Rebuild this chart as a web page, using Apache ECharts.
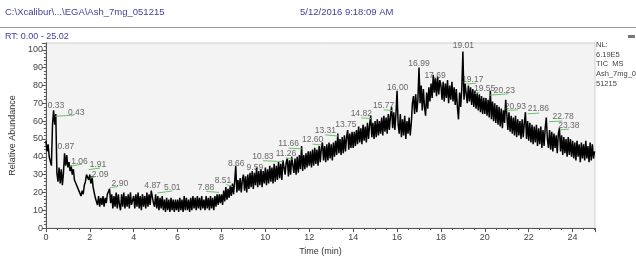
<!DOCTYPE html>
<html>
<head>
<meta charset="utf-8">
<script src="https://cdn.jsdelivr.net/npm/echarts@6/dist/echarts.min.js"></script>
<style>
html,body{margin:0;padding:0;background:#fff;}
#c{width:636px;height:261px;}
</style>
</head>
<body>
<div id="c"></div>
<script>
// ---- data ----
var timeStep = 0.05; // min between samples, first sample at 0.00
// relative abundance, one row per minute (20 samples each)
var abundance = [
  49,43,47,40,41,35,58,66,58,64,31,26,34,25,33,24,31,42,35,41,
  34,37,32,35,30,33,27,26,24,23,21,20,18,21,19,24,26,30,31,27,
  30,25,29,23,22,17,16,13,18,12,17,13,18,12,17,14,19,18,22,14,
  19,11,18,12,20,11,19,13,10,19,12,20,11,18,12,19,11,20,13,12,
  18,11,19,12,20,11,18,10,19,12,18,11,20,12,19,13,21,22,14,12,
  19,11,18,10,17,11,18,10,16,9,17,10,16,9,17,10,16,9,16,10,
  16,9,17,10,16,9,18,10,17,10,16,9,17,10,18,11,17,10,18,11,
  17,10,18,11,16,10,18,11,17,10,18,11,17,10,18,12,19,13,19,14,
  19,13,21,15,23,16,22,17,24,18,25,19,26,35,20,27,21,28,20,27,
  30,21,29,20,30,22,31,23,32,22,31,24,34,23,32,24,33,23,32,25,
  34,24,33,25,35,26,34,25,36,26,35,27,37,28,36,27,38,39,30,37,
  39,29,38,30,40,41,31,39,30,40,31,41,33,46,32,41,33,42,34,43,
  35,43,34,44,35,45,36,44,35,46,37,45,48,38,46,37,47,38,48,39,
  47,38,48,40,49,41,53,42,50,41,51,42,52,43,51,55,44,53,45,54,
  45,54,46,55,47,57,48,56,47,58,49,57,48,59,50,58,63,51,59,50,
  60,51,61,52,60,53,62,52,63,54,62,53,64,55,63,68,56,65,55,64,
  77,58,53,64,51,61,52,63,50,60,53,62,52,59,70,74,64,75,65,72,
  90,70,80,66,78,68,63,76,67,79,71,81,73,86,76,84,74,85,75,83,
  80,72,82,71,81,73,83,70,80,72,82,71,79,69,78,68,61,76,68,78,
  99,72,81,82,70,80,71,79,69,78,68,77,67,76,66,75,65,74,64,73,
  64,73,63,72,62,77,61,71,60,70,59,69,58,68,57,67,56,66,59,72,
  64,55,65,54,63,53,62,52,63,51,61,52,60,50,61,51,59,65,50,60,
  49,59,48,58,47,57,48,58,46,56,47,57,45,55,46,56,62,50,45,55,
  44,54,43,53,45,52,42,53,56,43,52,41,51,42,50,40,51,41,50,40,
  49,39,48,38,49,40,47,37,48,39,47,38,49,39,46,37,48,38,47,39,
  43
];
// peak annotations: text, label anchor (time, abundance)
var peakText  = ['0.33','0.43','0.87','1.06','1.91','2.09','2.90','4.87','5.01','7.88','8.51','8.66','9.59','10.83','11.26','11.66','12.60','13.31','13.75','14.82','15.77','16.00','16.99','17.69','19.01','19.17','19.55','20.23','20.93','21.86','22.78','23.38'];
var peakLabT  = [0.46,1.38,0.91,1.53,2.37,2.47,3.37,4.86,5.76,7.29,8.07,8.67,9.52,9.89,10.94,11.06,12.15,12.73,13.67,14.37,15.39,16.03,17.00,17.73,19.02,19.45,19.99,20.89,21.39,22.44,23.57,23.83];
var peakLabV  = [68.7,64.5,45.7,37.3,35.5,30.1,25.1,23.8,22.6,22.4,26.5,36.4,33.7,40.0,41.8,47.1,49.5,54.8,57.9,64.1,68.6,78.5,92.3,85.6,102.2,83.3,78.1,77.3,68.3,66.8,62.4,57.4];
// leader lines: [t1, v1, t2, v2]
var leaders = [
  [0.43,62.7,1.28,63.4],[1.08,34.6,1.65,35.9],[1.95,32.8,2.47,33.7],[2.02,28.0,2.20,28.5],
  [2.92,22.6,3.29,23.3],[5.08,19.7,5.76,20.8],[7.30,20.6,7.89,20.0],[8.22,24.4,8.52,23.3],
  [9.89,37.8,10.79,37.3],[10.94,39.4,11.24,38.7],[11.06,44.8,11.66,44.5],[12.15,47.1,12.55,46.6],
  [12.73,52.3,13.33,51.6],[14.37,61.8,14.82,61.5],[15.39,66.3,15.79,66.0],[19.15,80.8,19.60,81.2],
  [19.55,75.5,19.75,76.0],[20.23,74.6,21.07,75.3],[20.99,66.0,21.51,66.3],[21.96,64.1,22.48,64.5],
  [22.93,59.7,23.53,60.0],[23.45,55.2,23.83,55.5]
];
var xTicks = [0,2,4,6,8,10,12,14,16,18,20,22,24];
var yTicks = [0,10,20,30,40,50,60,70,80,90,100];
var rtMax = 25.02;

// ---- build ----
var series = abundance.map(function(v,i){ return [+(i*timeStep).toFixed(2), v]; });
var labels = peakText.map(function(s,i){ return [peakLabT[i], peakLabV[i], s]; });
var leaderData = leaders.map(function(l){ return {coords:[[l[0],l[1]],[l[2],l[3]]]}; });
var FONT = 'Liberation Sans, Arial, sans-serif';

var chart = echarts.init(document.getElementById('c'), null, {renderer:'canvas'});
chart.setOption({
  animation:false,
  backgroundColor:'#fff',
  grid:{left:37,right:41,top:43,bottom:25,show:true,backgroundColor:'#f3f3f3',borderColor:'#cfcfcf',borderWidth:1},
  xAxis:{
    type:'value',min:0,max:rtMax,interval:2,
    name:'Time (min)',nameLocation:'middle',nameGap:15,
    nameTextStyle:{fontSize:9,color:'#333',fontFamily:FONT},
    axisLine:{show:true,lineStyle:{color:'#555',width:1}},
    axisTick:{show:true,length:4,lineStyle:{color:'#555'}},
    minorTick:{show:true,splitNumber:4,length:2,lineStyle:{color:'#555'}},
    splitLine:{show:false},
    axisLabel:{fontSize:9,color:'#444',fontFamily:FONT,margin:5,
      formatter:function(v){ return xTicks.indexOf(v)>=0 ? String(v) : ''; }}
  },
  yAxis:{
    type:'value',min:0,max:103.8,interval:10,
    name:'Relative Abundance',nameLocation:'middle',nameGap:22,nameRotate:90,
    nameTextStyle:{fontSize:9,color:'#333',fontFamily:FONT},
    axisLine:{show:true,lineStyle:{color:'#555',width:1}},
    axisTick:{show:true,length:4,lineStyle:{color:'#555'}},
    minorTick:{show:true,splitNumber:5,length:2,lineStyle:{color:'#555'}},
    splitLine:{show:false},
    axisLabel:{fontSize:9,color:'#444',fontFamily:FONT,margin:3,
      formatter:function(v){ return yTicks.indexOf(v)>=0 ? String(v) : ''; }}
  },
  series:[
    {type:'line',data:series,showSymbol:false,symbol:'none',
     lineStyle:{color:'#000',width:1.5},silent:true,z:3},
    {type:'lines',coordinateSystem:'cartesian2d',data:leaderData,silent:true,
     lineStyle:{color:'#6cc26c',width:1,opacity:1},z:4},
    {type:'scatter',data:labels,symbolSize:1,itemStyle:{color:'rgba(0,0,0,0)'},silent:true,z:5,
     label:{show:true,position:'inside',fontSize:8.5,color:'#444',fontFamily:FONT,
       formatter:function(p){ return p.data[2]; }}}
  ],
  graphic:[
    {type:'text',left:5,top:7,style:{text:'C:\\Xcalibur\\...\\EGA\\Ash_7mg_051215',fontSize:9.5,fill:'#3f3f9a',fontFamily:FONT}},
    {type:'text',left:300,top:7,style:{text:'5/12/2016 9:18:09 AM',fontSize:9.5,fill:'#3f3f9a',fontFamily:FONT}},
    {type:'line',shape:{x1:0,y1:27.5,x2:636,y2:27.5},style:{stroke:'#9a9a9a',lineWidth:1}},
    {type:'text',left:5,top:32,style:{text:'RT: 0.00 - 25.02',fontSize:9,fill:'#3f3f9a',fontFamily:FONT}},
    {type:'text',left:596,top:40,style:{text:'NL:\n6.19E5\nTIC  MS\nAsh_7mg_0\n51215',fontSize:7.5,lineHeight:9.7,fill:'#444',fontFamily:FONT}},
    {type:'rect',shape:{x:628,y:35,width:7,height:3},style:{fill:'#777'}}
  ]
});
</script>
</body>
</html>
